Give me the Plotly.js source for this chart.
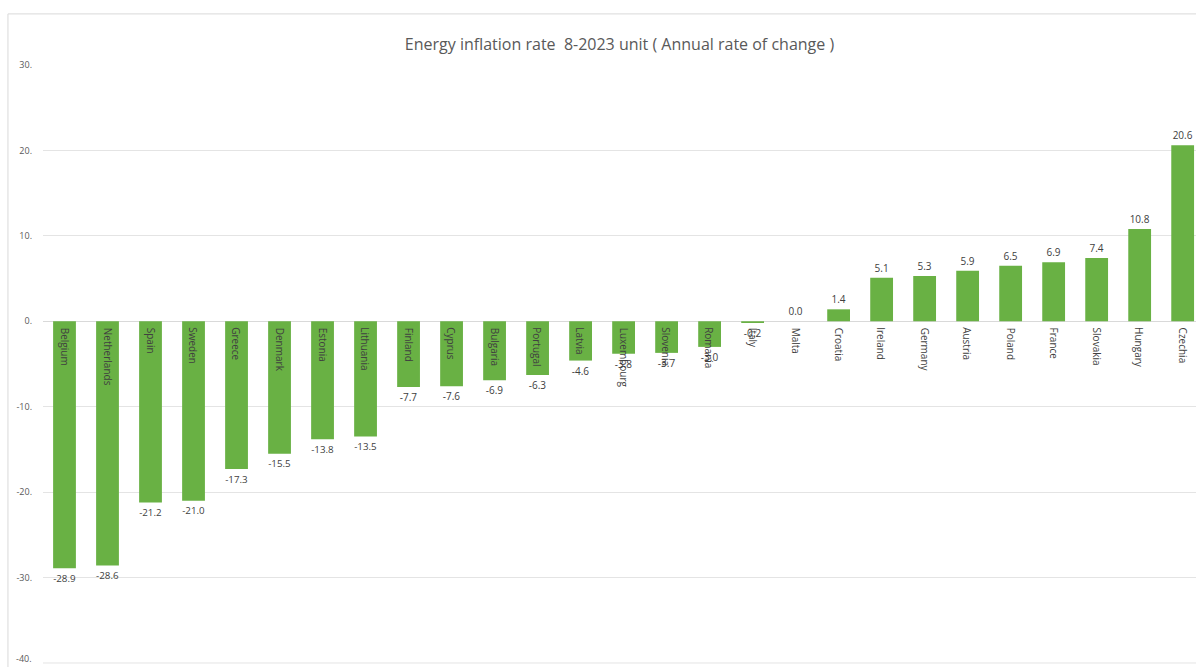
<!DOCTYPE html>
<html>
<head>
<meta charset="utf-8">
<script src="https://cdn.plot.ly/plotly-3.0.1.min.js"></script>
<style>html,body{margin:0;padding:0;background:#fff;}#chart{width:1196px;height:667px;}</style>
</head>
<body>
<div id="chart"></div>
<script>
const countries = ["Belgium","Netherlands","Spain","Sweden","Greece","Denmark","Estonia","Lithuania","Finland","Cyprus","Bulgaria","Portugal","Latvia","Luxembourg","Slovenia","Romania","Italy","Malta","Croatia","Ireland","Germany","Austria","Poland","France","Slovakia","Hungary","Czechia"];
const values = [-28.9,-28.6,-21.2,-21.0,-17.3,-15.5,-13.8,-13.5,-7.7,-7.6,-6.9,-6.3,-4.6,-3.8,-3.7,-3.0,-0.2,0.0,1.4,5.1,5.3,5.9,6.5,6.9,7.4,10.8,20.6];
const yTickVals = [30,20,10,0,-10,-20,-30,-40];
const yTickText = ["30.","20.","10.","0.","-10.","-20.","-30.","-40."];
const titleText = "Energy inflation rate  8-2023 unit ( Annual rate of change )";

const trace = {
  type: "bar",
  x: countries,
  y: values,
  marker: {color: "#69b144", line: {width: 0}},
  width: 0.53,
  texttemplate: "%{y:.1f}",
  textposition: "outside",
  cliponaxis: false,
  textfont: {family: "Open Sans, sans-serif", size: 10, color: "#404040"},
  hoverinfo: "x+y"
};

const fontFam = "Open Sans, sans-serif";
const annotations = countries.map(c => ({
  x: c, y: 0, xref: "x", yref: "y",
  text: c, showarrow: false, textangle: 90,
  yanchor: "top", xanchor: "center", yshift: -4,
  font: {family: fontFam, size: 10, color: "#404040"}
}));
// bottom tick label (at the very edge of the picture)
annotations.push({
  x: 0, xref: "paper", y: yTickVals[7], yref: "y",
  text: yTickText[7], showarrow: false, xanchor: "right", yanchor: "bottom", xshift: -9, yshift: -4,
  font: {family: fontFam, size: 9, color: "#595959"}
});

const layout = {
  width: 1196, height: 667,
  margin: {l: 43, r: 0, t: 65, b: 3, pad: 0},
  paper_bgcolor: "#ffffff", plot_bgcolor: "#ffffff",
  title: {text: titleText, x: 0.5, xref: "paper", y: 0.934, yanchor: "middle",
          font: {family: fontFam, size: 16, color: "#595959"}},
  xaxis: {type: "category", range: [-0.5, 26.31], showticklabels: false,
          showgrid: false, zeroline: false, showline: false, ticks: ""},
  yaxis: {range: [-40.12, 30], tickvals: yTickVals.slice(0, 7), ticktext: yTickText.slice(0, 7),
          showgrid: true, gridcolor: "#e4e4e4", gridwidth: 1,
          zeroline: true, zerolinecolor: "#d9d9d9", zerolinewidth: 1,
          showline: false, ticks: "", ticklen: 0, ticklabelstandoff: 10,
          tickfont: {family: fontFam, size: 9, color: "#595959"}},
  showlegend: false,
  bargap: 0.47,
  annotations: annotations,
  shapes: [
    {type: "line", xref: "paper", yref: "y", x0: 0, x1: 1, y0: yTickVals[7], y1: yTickVals[7], line: {color: "#e4e4e4", width: 1}},
    {type: "line", xref: "paper", yref: "paper", x0: -0.0304, x1: -0.0304, y0: 1.0853, y1: -0.01, line: {color: "#d9d9d9", width: 1}},
    {type: "line", xref: "paper", yref: "paper", x0: -0.0304, x1: 1.0, y0: 1.0853, y1: 1.0853, line: {color: "#d9d9d9", width: 1}}
  ]
};

Plotly.newPlot("chart", [trace], layout, {displayModeBar: false, staticPlot: true});
</script>
</body>
</html>
